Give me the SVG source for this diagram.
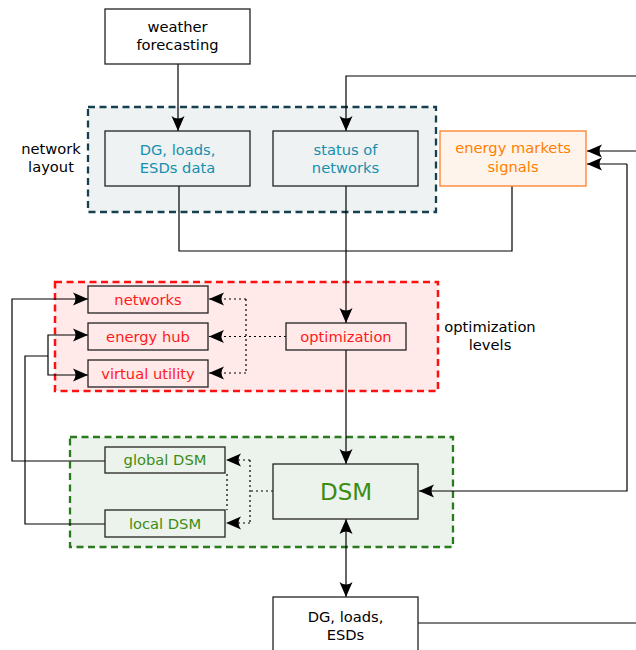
<svg xmlns="http://www.w3.org/2000/svg" width="636" height="650" viewBox="0 0 636 650">
<defs>
<marker id="ah" markerUnits="userSpaceOnUse" markerWidth="17" markerHeight="14" viewBox="-16 -7 17 14" refX="0" refY="0" orient="auto-start-reverse">
<path d="M0,0 L-15,-6.5 Q-10,0 -15,6.5 Z" fill="#000"/>
</marker>
<style>
text{font-family:"DejaVu Sans","Liberation Sans",sans-serif;font-size:14.7px;text-anchor:middle}
.box{fill:#fff;stroke:#222;stroke-width:1.3}
.c{fill:none;stroke:#000;stroke-width:1.2}
.d{fill:none;stroke:#000;stroke-width:1.2;stroke-dasharray:2,3}
.arr{marker-end:url(#ah)}
.blue{fill:#178fae}
.red{fill:#ff1a1a}
.green{fill:#3c8c14}
</style>
</defs>
<rect width="636" height="650" fill="#fff"/>
<g id="groups">
<rect x="88" y="107" width="348" height="105" fill="#eef2f3" stroke="#17404f" stroke-width="2.3" stroke-dasharray="7,4.5"/>
<rect x="55" y="282" width="383" height="109" fill="#ffe9e9" stroke="#ff1010" stroke-width="2.5" stroke-dasharray="7,4.5"/>
<rect x="70" y="437" width="383" height="110" fill="#ecf3ec" stroke="#2a7a1e" stroke-width="2.3" stroke-dasharray="7,4.5"/>
</g>
<g id="connectors">
<path class="c arr" d="M178,64 V131"/>
<path class="c arr" d="M636,76 H346 V131"/>
<path class="c arr" d="M636,151 H587"/>
<path class="c arr" d="M627,164 H587"/>
<path class="c arr" d="M627,164 V491 H419"/>
<path class="c" d="M512,186 V251 H179 V186"/>
<path class="c arr" d="M346,186 V323"/>
<path class="c arr" d="M346,350 V464"/>
<path class="c arr" d="M346,519 V597" style="marker-start:url(#ah)"/>
<path class="c" d="M418,623 H636"/>
<path class="c arr" d="M105,461 H12 V299 H88"/>
<path class="c" d="M105,524 H25 V356 H48"/>
<path class="c arr" d="M48,356 V335 H88"/>
<path class="c arr" d="M48,356 V375 H88"/>
<path class="d arr" d="M286,336.5 H209"/>
<path class="d" d="M246,299 V373"/>
<path class="d arr" d="M246,299 H209"/>
<path class="d arr" d="M246,373 H209"/>
<path class="d" d="M273,491 H250"/>
<path class="d" d="M250,460 V523"/>
<path class="d arr" d="M250,460 H226"/>
<path class="d arr" d="M250,523 H226"/>
<path class="d" d="M227,474 V510"/>
</g>
<g id="weather">
<rect class="box" x="105" y="9" width="145" height="55"/>
<text x="177.5" y="32">weather</text>
<text x="177.5" y="50">forecasting</text>
</g>
<g id="network-layout-label">
<text x="51" y="154">network</text>
<text x="51" y="172">layout</text>
</g>
<g id="dg-data">
<rect class="box" x="105" y="131" width="145" height="55" style="fill:#eef2f3"/>
<text class="blue" x="177.5" y="155">DG, loads,</text>
<text class="blue" x="177.5" y="173">ESDs data</text>
</g>
<g id="status">
<rect class="box" x="273" y="131" width="145" height="55" style="fill:#eef2f3"/>
<text class="blue" x="345.5" y="155">status of</text>
<text class="blue" x="345.5" y="173">networks</text>
</g>
<g id="markets">
<rect x="440" y="131" width="146" height="55" fill="#fff4ec" stroke="#ff7f2a" stroke-width="1.3"/>
<text x="513" y="153" fill="#ff7f00">energy markets</text>
<text x="513" y="172" fill="#ff7f00">signals</text>
</g>
<g id="networks">
<rect class="box" x="88" y="286" width="120" height="27" style="fill:#ffe9e9"/>
<text class="red" x="148" y="304.5">networks</text>
</g>
<g id="energy-hub">
<rect class="box" x="88" y="323" width="120" height="27" style="fill:#ffe9e9"/>
<text class="red" x="148" y="341.5">energy hub</text>
</g>
<g id="virtual-utility">
<rect class="box" x="88" y="360" width="120" height="27" style="fill:#ffe9e9"/>
<text class="red" x="148" y="378.5">virtual utility</text>
</g>
<g id="optimization">
<rect class="box" x="286" y="323" width="120" height="27" style="fill:#ffe9e9"/>
<text class="red" x="346" y="341.5">optimization</text>
</g>
<g id="optimization-levels-label">
<text x="490" y="332">optimization</text>
<text x="490" y="350">levels</text>
</g>
<g id="global-dsm">
<rect class="box" x="105" y="447" width="120" height="26" style="fill:#ecf3ec"/>
<text class="green" x="165" y="465">global DSM</text>
</g>
<g id="local-dsm">
<rect class="box" x="105" y="510" width="120" height="27" style="fill:#ecf3ec"/>
<text class="green" x="165" y="528.5">local DSM</text>
</g>
<g id="dsm">
<rect class="box" x="273" y="464" width="145" height="55" style="fill:#ecf3ec"/>
<text class="green" x="346" y="499.5" style="font-size:23px">DSM</text>
</g>
<g id="dg-esds">
<rect class="box" x="273" y="597" width="145" height="60"/>
<text x="345.5" y="621.5">DG, loads,</text>
<text x="345.5" y="639.5">ESDs</text>
</g>
</svg>
